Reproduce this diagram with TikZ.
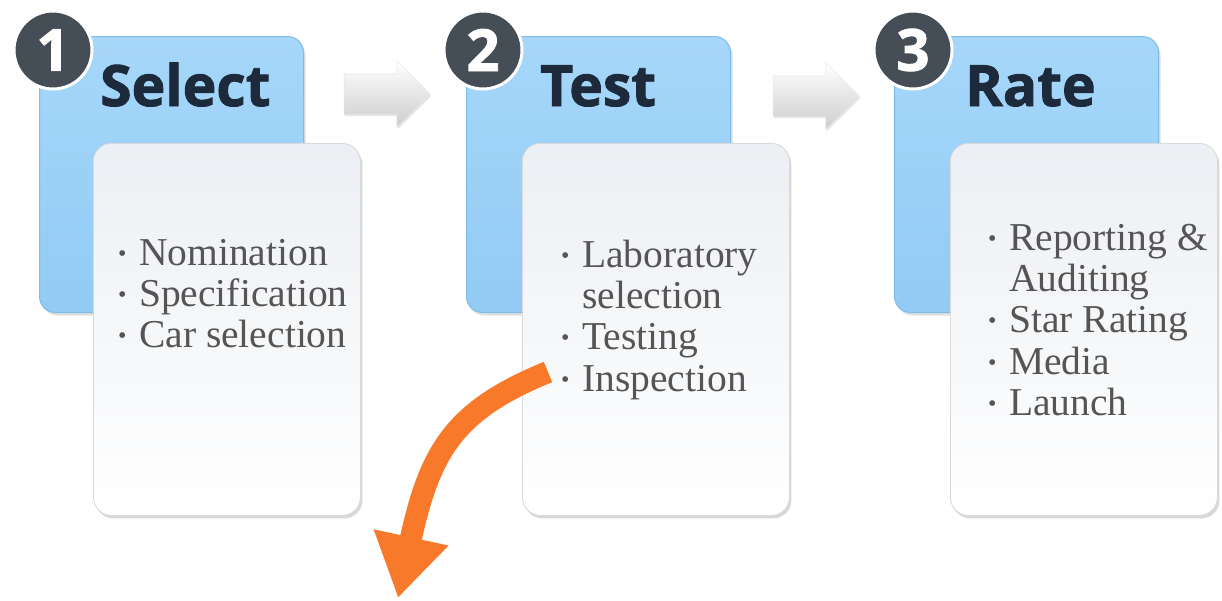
\documentclass[tikz,border=0pt]{standalone}
\usepackage{fontspec}
\setmainfont{Liberation Serif}
\newfontfamily\headfont{Open Sans}[BoldFeatures={FakeBold=1.6}]
\usetikzlibrary{shapes.arrows,shadows,arrows.meta}
\definecolor{blueT}{HTML}{A6D7FA}
\definecolor{blueB}{HTML}{92CBF4}
\definecolor{blueE}{HTML}{7DBCEA}
\definecolor{numgray}{HTML}{454D56}
\definecolor{titlec}{HTML}{1C2A3B}
\definecolor{itemc}{HTML}{555555}
\definecolor{whiteT}{HTML}{ECEFF3}
\definecolor{arrowgray}{HTML}{CDCDCD}
\definecolor{orangec}{HTML}{F9792A}
\newcommand\bul{\makebox[21pt][l]{{\fontsize{24}{24}\selectfont\raisebox{4pt}{•}}}}
\tikzset{
  bluebox/.style={rounded corners=16pt, top color=blueT, bottom color=blueB, draw=blueE, line width=1pt,
    minimum width=264pt, minimum height=276pt, anchor=north west, inner sep=0pt,
    drop shadow={opacity=0.25, shadow xshift=2pt, shadow yshift=-3pt}},
  whitebox/.style={rounded corners=18pt, top color=whiteT, bottom color=white, draw=black!15, line width=0.8pt,
    minimum width=267pt, minimum height=372pt, anchor=north west, inner sep=0pt,
    drop shadow={opacity=0.3, shadow xshift=2pt, shadow yshift=-3pt}},
  numcirc/.style={circle, fill=numgray, draw=white, line width=3pt, minimum size=78pt, inner sep=0pt,
    text=white, font=\headfont\bfseries\fontsize{58}{58}\selectfont},
  titletext/.style={anchor=base west, text=titlec, inner sep=0pt, font=\headfont\bfseries\fontsize{57}{57}\selectfont},
  items/.style={anchor=north west, text=itemc, inner sep=0pt, font=\fontsize{39.5}{41.3}\selectfont},
  grayarrow/.style={single arrow, single arrow head extend=13pt, minimum height=86pt,
    inner xsep=0pt, inner ysep=20pt, top color=white, bottom color=arrowgray, draw=black!10,
    drop shadow={opacity=0.2, shadow xshift=1pt, shadow yshift=-2pt}},
  orangearrow/.style={draw=orangec, line width=22pt, -{Triangle[width=72pt,length=62pt]}, color=orangec},
}
\begin{document}
\begin{tikzpicture}[x=1pt,y=-1pt]
\useasboundingbox (0,0) rectangle (1222,600);
\fill[white] (0,0) rectangle (1222,600);
% group 1
\node[bluebox] (b1) at (39,36) {};
\node[whitebox] (w1) at (93,143) {};
\node[numcirc] (c1) at (53,50) {1};
\node[titletext] (t1) at (100,106) {Select};
\node[items] (l1) at (118,236) {\begin{tabular}{@{}l@{}l@{}}\bul&Nomination\\ \bul&Specification\\ \bul&Car selection\end{tabular}};
% group 2
\node[bluebox] (b2) at (466,36) {};
\node[whitebox] (w2) at (522,143) {};
\node[numcirc] (c2) at (483,50) {2};
\node[titletext] (t2) at (540,106) {Test};
\node[items] (l2) at (561,238) {\begin{tabular}{@{}l@{}l@{}}\bul&Laboratory\\ &selection\\ \bul&Testing\\ \bul&Inspection\end{tabular}};
% group 3
\node[bluebox] (b3) at (894,36) {};
\node[whitebox] (w3) at (950,143) {};
\node[numcirc] (c3) at (913,50) {3};
\node[titletext] (t3) at (965,106) {Rate};
\node[items] (l3) at (988,221) {\begin{tabular}{@{}l@{}l@{}}\bul&Reporting \&\\ &Auditing\\ \bul&Star Rating\\ \bul&Media\\ \bul&Launch\end{tabular}};
% gray arrows
\node[grayarrow] (a1) at (377,94) {};
\node[grayarrow] (a2) at (806,96) {};
% orange arrow
\coordinate (os) at (548,372);
\coordinate (oe) at (398,598);
\draw[orangearrow] (os) .. controls (455,410) and (430,450) .. (oe);
\end{tikzpicture}
\end{document}
